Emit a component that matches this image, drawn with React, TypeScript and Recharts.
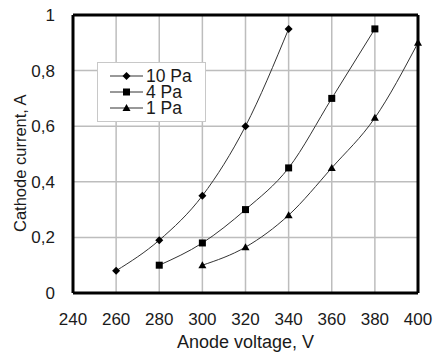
import { CartesianGrid, Line, LineChart, ReferenceLine, XAxis, YAxis } from 'recharts'

const voltage10 = [260, 280, 300, 320, 340]
const current10 = [0.08, 0.19, 0.35, 0.6, 0.95]
const voltage4 = [280, 300, 320, 340, 360, 380]
const current4 = [0.1, 0.18, 0.3, 0.45, 0.7, 0.95]
const voltage1 = [300, 320, 340, 360, 380, 400]
const current1 = [0.1, 0.165, 0.28, 0.45, 0.63, 0.9]
const xTicks = [240, 260, 280, 300, 320, 340, 360, 380, 400]
const yTicks = [0, 0.2, 0.4, 0.6, 0.8, 1]

const series = [
  { key: 'p10', name: '10 Pa', xs: voltage10, ys: current10, shape: 'diamond' },
  { key: 'p4', name: '4 Pa', xs: voltage4, ys: current4, shape: 'square' },
  { key: 'p1', name: '1 Pa', xs: voltage1, ys: current1, shape: 'triangle' },
]

// one row per voltage, null where a series has no point
const allV = Array.from(new Set([...voltage10, ...voltage4, ...voltage1])).sort((a, b) => a - b)
const rows = allV.map((v) => {
  const r: Record<string, number | null> = { v }
  series.forEach((s) => {
    const i = s.xs.indexOf(v)
    r[s.key] = i >= 0 ? s.ys[i] : null
  })
  return r
})

const font = '"Liberation Sans", Arial, sans-serif'
const ink = '#1a1a1a'

function Marker({ cx, cy, shape }: { cx?: number; cy?: number; shape: string }) {
  if (cx == null || cy == null) return null
  if (shape === 'diamond')
    return <path d={`M${cx},${cy - 4}L${cx + 4},${cy}L${cx},${cy + 4}L${cx - 4},${cy}Z`} fill="#000" />
  if (shape === 'square') return <rect x={cx - 3.5} y={cy - 3.5} width={7} height={7} fill="#000" />
  return <path d={`M${cx},${cy - 4}L${cx + 4},${cy + 3}L${cx - 4},${cy + 3}Z`} fill="#000" />
}

function LegendBox() {
  return (
    <div
      style={{
        position: 'absolute',
        left: 97,
        top: 62,
        border: '1px solid #c8c8c8',
        background: '#fff',
        width: 109,
        height: 60,
        boxSizing: 'border-box',
        padding: '5px 0 0 0',
        fontFamily: font,
        fontSize: 17.5,
        color: ink,
        lineHeight: '16px',
      }}
    >
      {series.map((s) => (
        <div key={s.name} style={{ display: 'flex', alignItems: 'center', height: 16, paddingLeft: 12 }}>
          <svg width={33} height={12}>
            <line x1={0} y1={6} x2={33} y2={6} stroke="#333" strokeWidth={1} />
            <Marker cx={16.5} cy={6} shape={s.shape} />
          </svg>
          <span style={{ marginLeft: 3 }}>{s.name}</span>
        </div>
      ))}
    </div>
  )
}

export default function App() {
  return (
    <div style={{ position: 'absolute', left: 0, top: 0, width: 435, height: 354, background: '#fff' }}>
      <LineChart width={435} height={354} data={rows} margin={{ top: 15, right: 17, bottom: 0, left: 0 }}>
        <CartesianGrid stroke="#bdbdbd" strokeWidth={1.5} />
        <XAxis
          type="number"
          dataKey="v"
          domain={[240, 400]}
          ticks={xTicks}
          height={61}
          tickLine={false}
          axisLine={{ stroke: '#000', strokeWidth: 3 }}
          tick={{ fill: ink, fontSize: 17, fontFamily: font }}
          tickMargin={14}
          label={{ value: 'Anode voltage, V', position: 'insideBottom', offset: 6, fill: ink, fontSize: 18, fontFamily: font }}
        />
        <YAxis
          type="number"
          domain={[0, 1]}
          ticks={yTicks}
          width={73}
          tickLine={false}
          axisLine={{ stroke: '#000', strokeWidth: 3 }}
          tick={{ fill: ink, fontSize: 17, fontFamily: font }}
          tickMargin={12}
          tickFormatter={(v: number) => String(v).replace('.', ',')}
          label={{ value: 'Cathode current, A', angle: -90, position: 'insideLeft', offset: 20, dy: 78, fill: ink, fontSize: 16.5, fontFamily: font }}
        />
        <ReferenceLine x={400} stroke="#000" strokeWidth={3} />
        <ReferenceLine y={1} stroke="#000" strokeWidth={3} />
        {series.map((s) => (
          <Line
            key={s.key}
            dataKey={s.key}
            name={s.name}
            type="monotone"
            connectNulls
            stroke="#333"
            strokeWidth={1}
            dot={(p: any) => <Marker key={p.index} cx={p.value == null ? undefined : p.cx} cy={p.value == null ? undefined : p.cy} shape={s.shape} />}
            activeDot={false}
            isAnimationActive={false}
          />
        ))}
      </LineChart>
      <LegendBox />
    </div>
  )
}
